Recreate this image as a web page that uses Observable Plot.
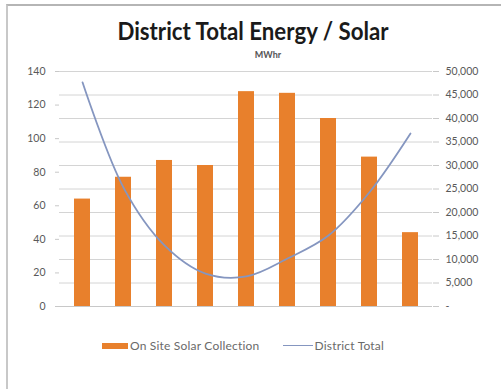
<!DOCTYPE html>
<html><head><meta charset="utf-8">
<script src="https://cdn.jsdelivr.net/npm/d3@7"></script>
<script src="https://cdn.jsdelivr.net/npm/@observablehq/plot@0.6"></script>
<style>
body{margin:0;background:#fff;font-family:Lato,"Open Sans",sans-serif;}
#wrap{position:relative;width:501px;height:389px;overflow:hidden;}
#frame{position:absolute;left:6px;top:4px;width:520px;height:400px;border-top:2px solid #b5b5b5;border-left:2px solid #c8c8c8;}
#title{position:absolute;left:253px;top:15px;transform:translateX(-50%) scaleX(0.89);font-weight:bold;font-size:25px;color:#1a1a1a;white-space:nowrap;}
#sub{position:absolute;left:268px;top:49px;transform:translateX(-50%);font-size:9px;font-weight:bold;color:#555;white-space:nowrap;}
#chart{position:absolute;left:0;top:0;}
#legend{position:absolute;top:338px;left:102px;font-size:12px;color:#6a6a6a;display:flex;align-items:center;white-space:nowrap;letter-spacing:0.2px;}
.sw{display:inline-block;width:26px;height:6px;background:#e8802c;margin-right:2px;}
.ln{display:inline-block;width:30px;height:1.5px;background:#8596c0;margin:0 1px 0 24px;}
</style></head>
<body><div id="wrap">
<div id="frame"></div>
<div id="chart"></div>
<div id="title">District Total Energy / Solar</div>
<div id="sub">MWhr</div>
<div id="legend"><span class="sw"></span>On Site Solar Collection<span class="ln"></span>District Total</div>
</div>
<script>
const categories = ["1","2","3","4","5","6","7","8","9"];
const solar = [64, 77, 87, 84, 128, 127, 112, 89, 44];
const districtTotal = [47700, 25300, 13000, 7000, 6400, 10200, 15100, 24300, 36800];
const leftTicks = [0, 20, 40, 60, 80, 100, 120, 140];
const rightTicks = [0, 5000, 10000, 15000, 20000, 25000, 30000, 35000, 40000, 45000, 50000];

const leftMax = 140, rightMax = 50000;
const toLeft = v => v * leftMax / rightMax;
const bars = categories.map((c, i) => ({c, v: solar[i]}));
const line = categories.map((c, i) => ({c, v: toLeft(districtTotal[i])}));

const chart = Plot.plot({
  width: 501, height: 389,
  marginLeft: 59, marginRight: 69, marginTop: 71, marginBottom: 83,
  style: {background: "transparent", fontFamily: "Lato, 'Open Sans', sans-serif", fontSize: "10.5px", color: "#595959"},
  x: {domain: categories, paddingInner: 0.61, paddingOuter: 0.305, axis: null},
  y: {domain: [0, leftMax], axis: null},
  marks: [
    Plot.ruleY(rightTicks.map(toLeft), {stroke: "#d4d4d4", strokeWidth: 1}),
    Plot.ruleX([0], {frameAnchor: "left", stroke: "#d4d4d4"}),
    Plot.axisY(leftTicks, {anchor: "left", tickSize: 4, tickPadding: 10, stroke: "#c8c8c8", fill: "#595959", label: null}),
    Plot.axisY(rightTicks.map(toLeft), {anchor: "right", tickSize: 6, tickPadding: 7, stroke: "#c8c8c8", fill: "#595959", label: null,
      tickFormat: d => { const v = Math.round(d * rightMax / leftMax); return v === 0 ? "-" : d3.format(",")(v); }}),
    Plot.barY(bars, {x: "c", y: "v", fill: "#e8802c"}),
    Plot.line(line, {x: "c", y: "v", stroke: "#8596c0", strokeWidth: 1.8, curve: "catmull-rom"}),
    Plot.ruleY([0], {stroke: "#c8c8c8"})
  ]
});
document.getElementById("chart").appendChild(chart);
</script>
</body></html>
